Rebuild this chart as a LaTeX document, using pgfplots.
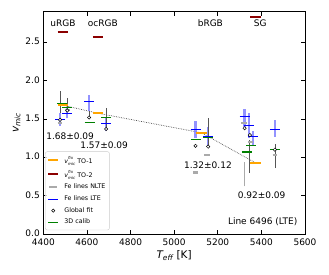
\documentclass[border=0pt]{standalone}
\usepackage{fontspec}
\setmainfont{DejaVu Sans}
\usepackage{pgfplots}
\pgfplotsset{compat=1.18}
\definecolor{orng}{HTML}{FFA500}
\definecolor{dred}{HTML}{8B0000}
\definecolor{nlte}{HTML}{AAAAAA}
\definecolor{mgreen}{HTML}{008000}
\definecolor{errg}{HTML}{555555}
\definecolor{lblue}{HTML}{7878FF}
\newcommand{\ssz}{\fontsize{4.0}{4.0}\selectfont}
\newcommand{\vfix}{{\itshape v}\raisebox{-2pt}{\ssz\itshape\shortstack[l]{fix\\mic}}}
\begin{document}
\begin{tikzpicture}
\begin{axis}[
  scale only axis, width=261.7pt, height=222.3pt,
  xmin=4400, xmax=5600, ymin=0, ymax=2.9,
  xtick={4400,4600,...,5600}, ytick={0,0.5,1,1.5,2,2.5},
  tick align=inside, xtick pos=both, ytick pos=both,
  major tick length=4pt,
  axis line style={line width=0.7pt},
  tick style={black, line width=0.7pt},
  tick label style={font=\fontsize{9}{10}\selectfont},
  x tick label style={yshift=-1.5pt, /pgf/number format/.cd, set thousands separator={}, assume math mode=true},
  y tick label style={yshift=0.8pt, /pgf/number format/.cd, fixed, fixed zerofill, precision=1, assume math mode=true},
  xlabel={\itshape T\textsubscript{eff} \upshape [K]},
  ylabel={\itshape v\textsubscript{mic}},
  label style={font=\fontsize{10.5}{12}\selectfont},
  ylabel style={yshift=-2pt},
  xlabel style={yshift=2.5pt},
  unbounded coords=jump,
  legend style={at={(axis cs:4408,0.05)}, anchor=south west, font=\fontsize{6.3}{7.5}\selectfont,
    draw=black!20, rounded corners=2pt, fill=white, fill opacity=0.8, text opacity=1,
    row sep=1.4pt, inner xsep=2pt, inner ysep=2.5pt, cells={anchor=west}},
]
\addlegendimage{legend image code/.code={\draw[orng, line width=2pt] (2pt,0pt) -- (12pt,0pt); \path (16pt,0pt);}}
\addlegendentry{\vfix\ TO-1}
\addlegendimage{legend image code/.code={\draw[dred, line width=2pt] (2pt,0pt) -- (12pt,0pt); \path (16pt,0pt);}}
\addlegendentry{\vfix\ TO-2}
\addlegendimage{legend image code/.code={\draw[nlte, line width=2.4pt] (3pt,0pt) -- (11pt,0pt); \path (16pt,0pt);}}
\addlegendentry{Fe lines NLTE}
\addlegendimage{legend image code/.code={\draw[blue, line width=0.8pt] (2pt,0pt) -- (12pt,0pt); \path (16pt,0pt);}}
\addlegendentry{Fe lines LTE}
\addlegendimage{legend image code/.code={\draw[black, line width=0.5pt, fill=white] (7pt,0pt) circle (1.6pt); \path (16pt,0pt);}}
\addlegendentry{Global fit}
\addlegendimage{legend image code/.code={\draw[mgreen, line width=1.1pt] (2pt,0pt) -- (12pt,0pt); \path (16pt,0pt);}}
\addlegendentry{3D calib}

% dotted line through TO-1 values
\addplot[forget plot, errg, densely dotted, line width=0.7pt] coordinates {(4490,1.68) (4651,1.575) (5126,1.32) (5372,0.93)};

% light blue LTE error bars
\addplot[forget plot, lblue, opacity=0.8, line width=2.6pt] coordinates {
(4477,1.41) (4477,1.58) (4477,nan)
(4508,1.51) (4508,1.64) (4508,nan)
(4610,1.60) (4610,1.81) (4610,nan)
(4688,1.34) (4688,1.51) (4688,nan)
(5098,1.25) (5098,1.47) (5098,nan)
(5156,1.16) (5156,1.40) (5156,nan)
(5323,1.40) (5323,1.63) (5323,nan)
(5344,1.25) (5344,1.58) (5344,nan)
(5362,1.16) (5362,1.35) (5362,nan)
(5462,1.27) (5462,1.49)};

% global fit error bars
\addplot[forget plot, errg, line width=0.6pt] coordinates {
(4477,1.58) (4477,1.86) (4477,nan)
(4510,1.62) (4510,1.77) (4510,nan)
(4610,1.52) (4610,1.60) (4610,nan)
(4688,1.36) (4688,1.64) (4688,nan)
(5156,1.14) (5156,1.51) (5156,nan)
(5346,0.80) (5346,1.23) (5346,nan)
(5462,0.86) (5462,1.18)};
\addplot[forget plot, nlte, line width=1pt] coordinates {(5321,0.62) (5321,0.94)};

% NLTE
\addplot[forget plot, nlte, line width=2.4pt] coordinates {
(4466,1.45) (4488,1.45) (4488,nan)
(4499,1.62) (4521,1.62) (4521,nan)
(5086,0.80) (5110,0.80) (5110,nan)
(5139,1.03) (5163,1.03) (5163,nan)
(5308,1.45) (5332,1.45) (5332,nan)
(5339,1.20) (5361,1.20) (5361,nan)
(5451,1.03) (5473,1.03)};

% LTE
\addplot[forget plot, blue, line width=0.9pt] coordinates {
(4454,1.50) (4500,1.50) (4500,nan)
(4485,1.57) (4531,1.57) (4531,nan)
(4587,1.73) (4633,1.73) (4633,nan)
(4665,1.44) (4711,1.44) (4711,nan)
(5075,1.36) (5121,1.36) (5121,nan)
(5133,1.27) (5179,1.27) (5179,nan)
(5300,1.53) (5346,1.53) (5346,nan)
(5321,1.42) (5367,1.42) (5367,nan)
(5340,1.27) (5384,1.27) (5384,nan)
(5439,1.37) (5485,1.37)};

% global fit
\addplot[forget plot, only marks, mark=*, mark size=1.7pt, mark options={draw=black, fill=white, line width=0.5pt}] coordinates {
(4477,1.49) (4510,1.61) (4610,1.52) (4688,1.37) (5098,1.15) (5156,1.14) (5323,1.38) (5347,1.29) (5462,1.10)};

% 3D calib
\addplot[forget plot, mgreen, line width=1.1pt] coordinates {
(4462,1.70) (4508,1.70) (4508,nan)
(4487,1.65) (4531,1.65) (4531,nan)
(4589,1.45) (4635,1.45) (4635,nan)
(4665,1.52) (4711,1.52) (4711,nan)
(5075,1.23) (5121,1.23) (5121,nan)
(5133,1.26) (5179,1.26) (5179,nan)
(5330,1.15) (5376,1.15) (5376,nan)
(5311,1.07) (5357,1.07) (5357,nan)
(5439,1.10) (5485,1.10)};

% TO-1
\addplot[forget plot, orng, line width=2pt] coordinates {
(4466,1.68) (4514,1.68) (4514,nan)
(4627,1.575) (4675,1.575) (4675,nan)
(5102,1.32) (5150,1.32) (5150,nan)
(5348,0.93) (5396,0.93)};

% TO-2
\addplot[forget plot, dred, line width=2pt] coordinates {
(4466,2.63) (4514,2.63) (4514,nan)
(4627,2.57) (4675,2.57) (4675,nan)
(5348,2.83) (5396,2.83)};

\begin{scope}[every node/.style={font=\fontsize{9}{10}\selectfont, inner sep=0pt}]
\node at (axis cs:4490,2.75) {uRGB};
\node at (axis cs:4673,2.75) {ocRGB};
\node at (axis cs:5166,2.75) {bRGB};
\node at (axis cs:5395,2.75) {SG};
\node at (axis cs:4523,1.27) {1.68±0.09};
\node at (axis cs:4679,1.16) {1.57±0.09};
\node at (axis cs:5155,0.90) {1.32±0.12};
\node at (axis cs:5401,0.50) {0.92±0.09};
\node[anchor=east] at (axis cs:5566,0.16) {Line 6496 (LTE)};
\end{scope}
\end{axis}
\path (-43.3pt,-40pt) rectangle (285.7pt,234pt);
\end{tikzpicture}
\end{document}
